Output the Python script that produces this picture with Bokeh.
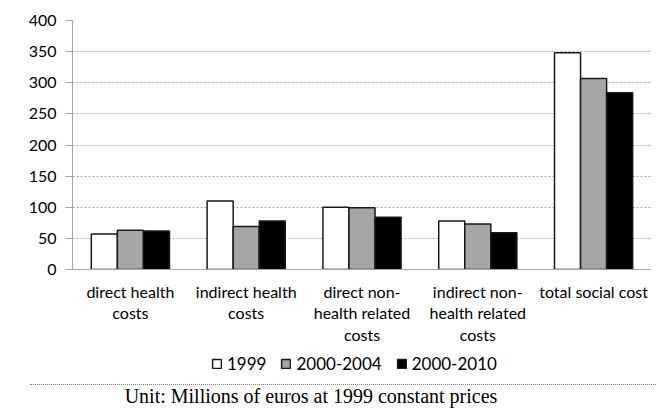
from bokeh.plotting import figure
from bokeh.models import (FactorRange, Range1d, SingleIntervalTicker, Legend,
                          LegendItem, ColumnDataSource, Div)
from bokeh.transform import dodge
from bokeh.layouts import column
from bokeh.embed import file_html
from bokeh.resources import INLINE

# ---- data ----
categories = [
    "direct health\ncosts",
    "indirect health\ncosts",
    "direct non-\nhealth related\ncosts",
    "indirect non-\nhealth related\ncosts",
    "total social cost",
]
series = ["1999", "2000-2004", "2000-2010"]
v1999 = [57, 110, 100, 78, 348]
v2000_2004 = [63, 69, 99, 73, 307]
v2000_2010 = [62, 78, 84, 59, 284]
y_max = 400
y_step = 50
caption = "Unit: Millions of euros at 1999 constant prices"

src = ColumnDataSource(dict(cat=categories, a=v1999, b=v2000_2004, c=v2000_2010))

bw = 0.225
fills = ["white", "#a6a6a6", "black"]
cols = ["a", "b", "c"]
offs = [-bw, 0, bw]

p = figure(x_range=FactorRange(*categories), y_range=Range1d(0, y_max),
           width=651, height=352, output_backend="svg", toolbar_location=None,
           min_border_left=72, min_border_right=0, min_border_top=20,
           min_border_bottom=83)
p.outline_line_color = None

for col, off, fc in zip(cols, offs, fills):
    p.vbar(x=dodge("cat", off, range=p.x_range), top=col, width=bw,
           source=src, fill_color=fc, line_color="#1a1a1a", line_width=1.5)

ticker = SingleIntervalTicker(interval=y_step)
p.yaxis.ticker = ticker
p.ygrid.ticker = ticker
p.xgrid.visible = False
p.ygrid.grid_line_color = "#a6a6a6"
p.ygrid.grid_line_dash = "2 2"
p.ygrid.grid_line_width = 1

p.yaxis.axis_line_color = "#a6a6a6"
p.yaxis.major_tick_line_color = "#a6a6a6"
p.yaxis.major_tick_in = 0
p.yaxis.major_tick_out = 7
p.yaxis.minor_tick_line_color = None
p.yaxis.major_label_text_font = "Lato"
p.yaxis.major_label_text_font_size = "16px"
p.yaxis.major_label_text_color = "black"
p.yaxis.major_label_standoff = 9

p.xaxis.axis_line_color = "#a6a6a6"
p.xaxis.major_tick_line_color = None
p.xaxis.major_tick_out = 0
p.xaxis.major_tick_in = 0
p.xaxis.major_label_standoff = 12
p.xaxis.major_label_text_font = "Lato"
p.xaxis.major_label_text_font_size = "16px"
p.xaxis.major_label_text_color = "black"
p.xaxis.major_label_text_line_height = 1.15

# ---- legend strip (same series, hidden; only the key shows) ----
p2 = figure(x_range=p.x_range, y_range=Range1d(1000, 1027),
            width=651, height=27, output_backend="svg", toolbar_location=None,
            min_border=0, x_axis_location=None, y_axis_location=None)
p2.outline_line_color = None
p2.grid.visible = False
keys = []
for col, off, fc in zip(cols, offs, fills):
    r = p2.vbar(x=dodge("cat", off, range=p2.x_range), top=col, width=bw,
                source=src, fill_color=fc, line_color="#1a1a1a", line_width=1.5)
    r.visible = False
    keys.append(r)
legend = Legend(items=[LegendItem(label=s, renderers=[r]) for s, r in zip(series, keys)],
                orientation="horizontal", location=(139, 5),
                glyph_width=11, glyph_height=11, label_standoff=5, spacing=14,
                padding=0, margin=0, border_line_color=None,
                background_fill_alpha=0, label_text_font="Lato",
                label_text_font_size="17px", label_text_color="black")
p2.add_layout(legend)

# ---- dotted rule + caption ----
cap = Div(width=651, height=25, text=(
    '<div style="margin-left:25px;width:626px;border-top:1px dotted #808080;height:0"></div>'
    '<div style="width:612px;text-align:center;font-family:\'Liberation Serif\';'
    'font-size:20px;line-height:20px;margin-top:1px;color:black;white-space:nowrap">'
    + caption + '</div>'))

layout = column(p, p2, cap, spacing=0)
open("out.html", "w").write(file_html(layout, INLINE))
